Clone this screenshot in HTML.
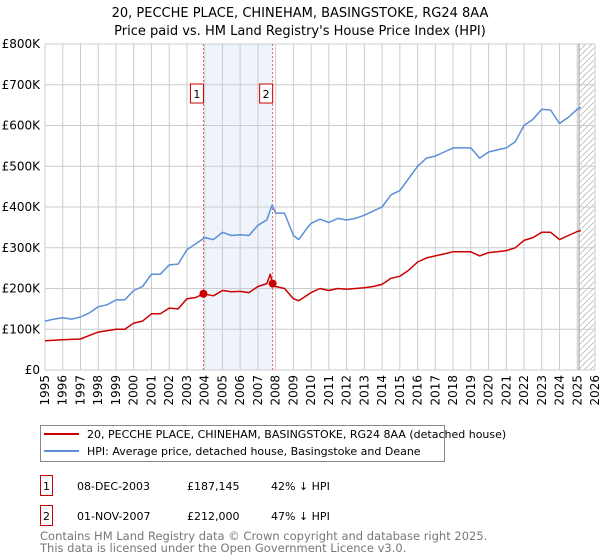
<!DOCTYPE html>
<html><head><meta charset="utf-8">
<style>
body{margin:0;background:#fff;font-family:"DejaVu Sans","Liberation Sans",sans-serif;}
#wrap{position:relative;width:600px;height:560px;overflow:hidden;}
svg text{font-family:"DejaVu Sans","Liberation Sans",sans-serif;}
</style></head>
<body>
<div id="wrap">
<svg id="chart" width="600" height="560"></svg>
</div>
<script>
const hpiYears=[1995,1995.5,1996,1996.5,1997,1997.5,1998,1998.5,1999,1999.5,2000,2000.5,2001,2001.5,2002,2002.5,2003,2003.5,2004,2004.5,2005,2005.5,2006,2006.5,2007,2007.5,2007.8,2008,2008.5,2009,2009.3,2009.8,2010,2010.5,2011,2011.5,2012,2012.5,2013,2013.5,2014,2014.5,2015,2015.5,2016,2016.5,2017,2017.5,2018,2018.5,2019,2019.5,2020,2020.5,2021,2021.5,2022,2022.5,2023,2023.5,2024,2024.5,2025,2025.2];
const hpiValues=[120,125,128,125,130,140,155,160,172,172,195,205,235,235,258,260,295,310,325,320,338,330,332,330,355,368,405,385,385,330,320,350,360,370,362,372,368,372,380,390,400,430,440,470,500,520,525,535,545,545,545,520,535,540,545,560,600,615,640,638,605,620,640,645];
const priceYears=[1995,1996,1997,1997.5,1998,1999,1999.5,2000,2000.5,2001,2001.5,2002,2002.5,2003,2003.5,2003.93,2004.5,2005,2005.5,2006,2006.5,2007,2007.5,2007.7,2007.83,2008,2008.5,2009,2009.3,2010,2010.5,2011,2011.5,2012,2012.5,2013,2013.5,2014,2014.5,2015,2015.5,2016,2016.5,2017,2017.5,2018,2019,2019.5,2020,2020.5,2021,2021.5,2022,2022.5,2023,2023.5,2024,2024.5,2025,2025.2];
const priceValues=[72,74,76,85,93,100,100,115,120,138,138,152,150,175,178,187,182,195,192,193,190,205,212,235,212,205,200,175,170,190,200,195,200,198,200,202,205,210,225,230,245,265,275,280,285,290,290,280,288,290,293,300,318,325,338,338,320,330,340,342];
const saleYears=[2003.93,2007.83];
const saleValues=[187.145,212];
const saleLabels=["1","2"];
const yTicks=[0,100,200,300,400,500,600,700,800];
const yTickLabels=["£0","£100K","£200K","£300K","£400K","£500K","£600K","£700K","£800K"];
const xTicks=[1995,1996,1997,1998,1999,2000,2001,2002,2003,2004,2005,2006,2007,2008,2009,2010,2011,2012,2013,2014,2015,2016,2017,2018,2019,2020,2021,2022,2023,2024,2025,2026];

const L=45,R=595,T=44,B=370;
const x=v=>L+(v-1995)/(2026-1995)*(R-L);
const y=v=>B-v/800*(B-T);
const svg=document.getElementById('chart');
const NS='http://www.w3.org/2000/svg';
function mk(tag,attrs,parent){const e=document.createElementNS(NS,tag);for(const k in attrs)e.setAttribute(k,attrs[k]);(parent||svg).appendChild(e);return e;}

// title
let t=mk('text',{x:300,y:17,'text-anchor':'middle','font-size':'13',fill:'#000'});t.textContent='20, PECCHE PLACE, CHINEHAM, BASINGSTOKE, RG24 8AA';

t=mk('text',{x:300,y:35,'text-anchor':'middle','font-size':'13',fill:'#000'});t.textContent="Price paid vs. HM Land Registry's House Price Index (HPI)";


// shaded band between sales
let band=mk('rect',{x:x(saleYears[0]),y:T,width:x(saleYears[1])-x(saleYears[0]),height:B-T,fill:'#eef3fc'});


// hatch
const defs=mk('defs',{});
const pat=mk('pattern',{id:'hatch',width:6,height:6,patternUnits:'userSpaceOnUse'},defs);
mk('path',{d:'M0,6 L6,0',stroke:'#bbb','stroke-width':0.8},pat);
let hx=x(2025.1);
let hatch=mk('rect',{x:hx,y:T,width:R-hx,height:B-T,fill:'url(#hatch)'});


// grid
yTicks.forEach((v,i)=>{
  let g=mk('line',{x1:L,x2:R,y1:y(v),y2:y(v),stroke:'#cccccc','stroke-width':1});
  
  let lb=mk('text',{x:L-5,y:y(v)+4,'text-anchor':'end','font-size':'12',fill:'#000'});lb.textContent=yTickLabels[i];
  
});
xTicks.forEach(v=>{
  let g=mk('line',{x1:x(v),x2:x(v),y1:T,y2:B,stroke:'#cccccc','stroke-width':1});
  
  let lb=mk('text',{x:0,y:0,'text-anchor':'end','font-size':'12',fill:'#000',transform:`translate(${x(v)+4},${B+5}) rotate(-90)`});lb.textContent=String(v);
  
});
let vl=mk('line',{x1:hx,x2:hx,y1:T,y2:B,stroke:'#999','stroke-width':1});


// sale lines
saleYears.forEach((v,i)=>{
  let l=mk('line',{x1:x(v),x2:x(v),y1:T,y2:B,stroke:'#e06060','stroke-width':1,'stroke-dasharray':'2,2'});
  
  let bx=mk('rect',{x:x(v)-13,y:84,width:13,height:19,fill:'#fff',stroke:'#cc0000','stroke-width':1});
  
  let tx=mk('text',{x:x(v)-6.5,y:98,'text-anchor':'middle','font-size':'11',fill:'#000'});tx.textContent=saleLabels[i];
  
});

function line(xs,vs,color,name){
  const d=xs.map((a,i)=>(i?'L':'M')+x(a).toFixed(1)+','+y(vs[i]).toFixed(1)).join(' ');
  let p=mk('path',{d:d,fill:'none',stroke:color,'stroke-width':1.5,'stroke-linejoin':'round'});
  
}
line(hpiYears,hpiValues,'#5b8fd6','hpi-line');
line(priceYears,priceValues,'#cc0000','price-paid-line');
saleYears.forEach((v,i)=>{
  let c=mk('circle',{cx:x(v),cy:y(saleValues[i]),r:4,fill:'#cc0000'});
  
});

// legend
let lg=mk('rect',{x:40.5,y:425.5,width:404,height:36,fill:'#fff',stroke:'#888','stroke-width':1});

let l1=mk('line',{x1:44,x2:79,y1:434,y2:434,stroke:'#cc0000','stroke-width':2});

t=mk('text',{x:87,y:438,'font-size':'11',fill:'#000'});t.textContent='20, PECCHE PLACE, CHINEHAM, BASINGSTOKE, RG24 8AA (detached house)';

let l2=mk('line',{x1:44,x2:79,y1:451,y2:451,stroke:'#5b8fd6','stroke-width':2});

t=mk('text',{x:87,y:455,'font-size':'11',fill:'#000'});t.textContent='HPI: Average price, detached house, Basingstoke and Deane';


// table
const rows=[["1","08-DEC-2003","£187,145","42% ↓ HPI"],["2","01-NOV-2007","£212,000","47% ↓ HPI"]];
rows.forEach((r,i)=>{
  const yy=475+i*30;
  let b=mk('rect',{x:40.5,y:yy+0.5,width:12,height:20,fill:'#fff',stroke:'#cc0000','stroke-width':1});
  
  let a=mk('text',{x:46.5,y:yy+15,'text-anchor':'middle','font-size':'11',fill:'#000'});a.textContent=r[0];
  
  [[77,r[1],'sale-date'],[187,r[2],'sale-price'],[271,r[3],'hpi-difference']].forEach(c=>{
    let e=mk('text',{x:c[0],y:yy+15,'font-size':'11',fill:'#000'});e.textContent=c[1];
    
  });
});
t=mk('text',{x:40,y:540,'font-size':'11.5',fill:'#777'});t.textContent='Contains HM Land Registry data © Crown copyright and database right 2025.';

t=mk('text',{x:40,y:552,'font-size':'11.5',fill:'#777'});t.textContent='This data is licensed under the Open Government Licence v3.0.';

</script>
</body></html>
